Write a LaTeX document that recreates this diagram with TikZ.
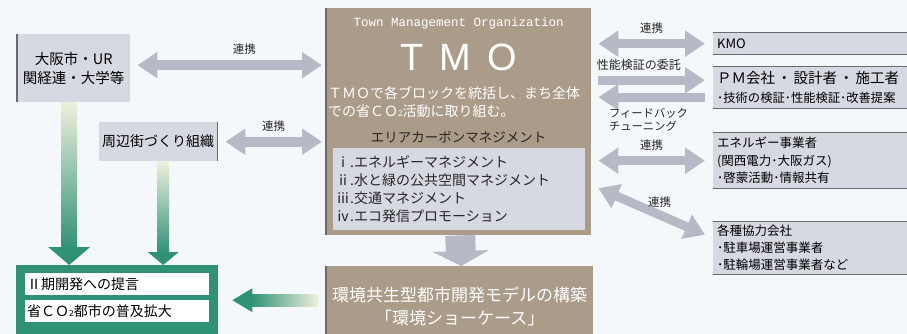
\documentclass[tikz,border=0pt]{standalone}
\usepackage{fontspec}
\usepackage{graphicx}
\setmainfont{Noto Sans CJK JP}
\newfontfamily\monofont{Liberation Mono}
\newfontfamily\tmofont{Liberation Sans}
\usetikzlibrary{arrows.meta,positioning,calc}
\definecolor{Bg}{HTML}{F4F8FA}
\definecolor{Box}{HTML}{D6D9E1}
\definecolor{Tan}{HTML}{AA9C89}
\definecolor{Agray}{HTML}{B5BAC6}
\definecolor{Teal}{HTML}{2F9276}
\definecolor{Fade}{HTML}{EEF0DC}
\definecolor{Edge}{HTML}{6A6A6A}
\newcommand{\subtwo}{\scalebox{.6}{2}}

\begin{document}
\begin{tikzpicture}[x=1pt,y=-1pt,
  box/.style={fill=Box,inner sep=0pt,anchor=north west,font=\fontsize{14}{18}\selectfont},
  rbox/.style={box,minimum width=194pt,text width=186pt,align=left,inner xsep=4pt},
  tanbox/.style={fill=Tan,inner sep=0pt,anchor=north west},
  garrow/.style={draw=Agray,line width=9pt,>={Triangle[length=20pt,width=25pt]}},
  lbl/.style={font=\fontsize{11.5}{14}\selectfont,text=black!85}]
\fill[Bg] (0,0) rectangle (907,334);
\useasboundingbox (0,0) rectangle (907,334);

% left partners
\node[box,minimum width=113pt,minimum height=68pt,align=center,font=\fontsize{14.5}{19}\selectfont] (osaka) at (17,34) {大阪市・UR\\関経連・大学等};
\node[box,minimum width=118pt,minimum height=39pt] (town) at (99,122) {周辺街づくり組織};
\draw[Edge,line width=1.2pt] (osaka.north west) -- (osaka.south west);
\draw[Edge,line width=1.2pt] (town.north east) -- (town.south east);

% TMO
\node[tanbox,minimum width=265pt,minimum height=227pt] (tmo) at (326,8) {};
\draw[Edge,line width=1.2pt] (tmo.north west) -- (tmo.south west);
\node[text=white,font=\monofont\fontsize{12.5}{14}\selectfont] (tmoeng) at (tmo.north |- 0,23) {Town Management Organization};
\node[text=white,font=\tmofont\fontsize{38}{40}\selectfont] (tmoname) at (tmo.north |- 0,57) {T\hspace{16pt}M\hspace{16pt}O};
\node[text=white,align=left,font=\fontsize{14}{18}\selectfont] (tmotxt) at (454,102) {ＴＭＯで各ブロックを統括し、まち全体\\での省ＣＯ\subtwo 活動に取り組む。};
\node[text=black!85,font=\fontsize{13.5}{16}\selectfont] (acmtitle) at (tmo.north |- 0,137) {エリアカーボンマネジメント};
\node[box,minimum width=252pt,minimum height=82pt,text width=246pt,align=left,inner xsep=3pt,text=black!85] (acm) at (333,148) {ⅰ.エネルギーマネジメント\\ⅱ.水と緑の公共空間マネジメント\\ⅲ.交通マネジメント\\ⅳ.エコ発信プロモーション};

% result
\node[tanbox,minimum width=267pt,minimum height=80pt,text=white,align=center,font=\fontsize{17}{23}\selectfont] (model) at (326,266) {環境共生型都市開発モデルの構築\\「環境ショーケース」};
\draw[Edge,line width=1.2pt] (model.north west) -- (model.south west);
\draw[draw=Agray,line width=30pt,-{Triangle[length=15pt,width=56pt]}] ([xshift=1.5pt]tmo.south) -- ([xshift=1.5pt]model.north);

% proposals
\node[fill=Teal,inner sep=0pt,anchor=north west,minimum width=202pt,minimum height=75pt] (sug) at (16,265) {};
\node[fill=white,inner xsep=2pt,inner ysep=0pt,anchor=north west,minimum width=184pt,minimum height=22pt,text width=180pt,font=\fontsize{14}{16}\selectfont] (sug1) at (25,273) {Ⅱ期開発への提言};
\node[fill=white,inner xsep=2pt,inner ysep=0pt,anchor=north west,minimum width=184pt,minimum height=22pt,text width=180pt,font=\fontsize{14}{16}\selectfont] (sug2) at (25,300) {省ＣＯ\subtwo 都市の普及拡大};

% green arrows
\coordinate (g1) at ([xshift=-4.5pt]osaka.south);
\shade[top color=Fade,bottom color=Teal] ($(g1)+(-8,0)$) rectangle ($(g1 |- sug.north)+(8,-17)$);
\fill[Teal] ($(g1 |- sug.north)+(-21,-18)$) -- ($(g1 |- sug.north)+(21,-18)$) -- (g1 |- sug.north) -- cycle;
\coordinate (g2) at ([xshift=5pt]town.south);
\shade[top color=Fade,bottom color=Teal] ($(g2)+(-6,0)$) rectangle ($(g2 |- sug.north)+(6,-12)$);
\fill[Teal] ($(g2 |- sug.north)+(-15.5,-13)$) -- ($(g2 |- sug.north)+(15.5,-13)$) -- (g2 |- sug.north) -- cycle;
\coordinate (g3) at ([xshift=14pt,yshift=2.5pt]sug.east);
\shade[left color=Teal,right color=Fade] ($(g3)+(19,-6)$) rectangle ($(g3 -| model.west)+(-8,6)$);
\fill[Teal] (g3) -- ($(g3)+(20,-12)$) -- ($(g3)+(20,12)$) -- cycle;

% links to TMO
\draw[garrow,<->,line width=10pt] ([xshift=7pt,yshift=3pt]osaka.east) -- ([xshift=-4pt,yshift=3pt]osaka.east -| tmo.west) node[lbl,pos=0.58,above=2pt] {連携};
\draw[garrow,<->,line width=10pt] ([xshift=8pt]town.east) -- ([xshift=-4pt]town.east -| tmo.west) node[lbl,midway,above=2pt] {連携};

% right partners
\node[rbox,minimum height=21pt,font=\fontsize{13}{16}\selectfont] (kmo) at (713,33) {KMO};
\node[rbox,minimum height=41pt,font=\fontsize{14.5}{19}\selectfont] (pm) at (713,67) {ＰＭ会社\hspace{2pt}・\hspace{2pt}設計者\hspace{2pt}・\hspace{2pt}施工者\\{\fontsize{12.3}{14}\selectfont ･技術の検証･性能検証･改善提案}};
\node[rbox,minimum height=55pt,font=\fontsize{12.5}{17.5}\selectfont] (ene) at (713,133) {エネルギー事業者\\(関西電力･大阪ガス)\\･啓蒙活動･情報共有};
\node[rbox,minimum height=53pt,font=\fontsize{12.5}{17}\selectfont] (kaku) at (713,221) {各種協力会社\\･駐車場運営事業者\\･駐輪場運営事業者など};
\foreach \n in {kmo,pm,ene,kaku}
  \draw[Edge,line width=1pt] (\n.north west) -- (\n.north east) (\n.south west) -- (\n.south east);

\draw[garrow,<->] ([xshift=7pt]tmo.east |- kmo.west) -- ([xshift=-8pt]kmo.west) node[lbl,midway,above=2pt] {連携};
\draw[garrow,->] ([xshift=7pt,yshift=7.5pt]tmo.east |- pm.west) -- ([xshift=-8pt,yshift=7.5pt]pm.west) node[lbl,pos=0.38,above=2pt,font=\fontsize{12}{14}\selectfont] {性能検証の委託};
\draw[garrow,<-] ([xshift=7pt,yshift=-9.5pt]tmo.east |- pm.west) -- ([xshift=-8pt,yshift=-9.5pt]pm.west) node[lbl,pos=0.47,below=3pt,align=left,font=\fontsize{11.3}{13}\selectfont] {フィードバック\\チューニング};
\draw[garrow,<->] ([xshift=7pt]tmo.east |- ene.west) -- ([xshift=-8pt]ene.west) node[lbl,midway,above=2pt] {連携};
\coordinate (d1) at ([xshift=7pt,yshift=-66.5pt]tmo.east);
\draw[garrow,<->] (d1) -- ([xshift=-8pt,yshift=13pt]kaku.west) node[lbl,midway,xshift=8pt,yshift=9pt] {連携};
\end{tikzpicture}
\end{document}
